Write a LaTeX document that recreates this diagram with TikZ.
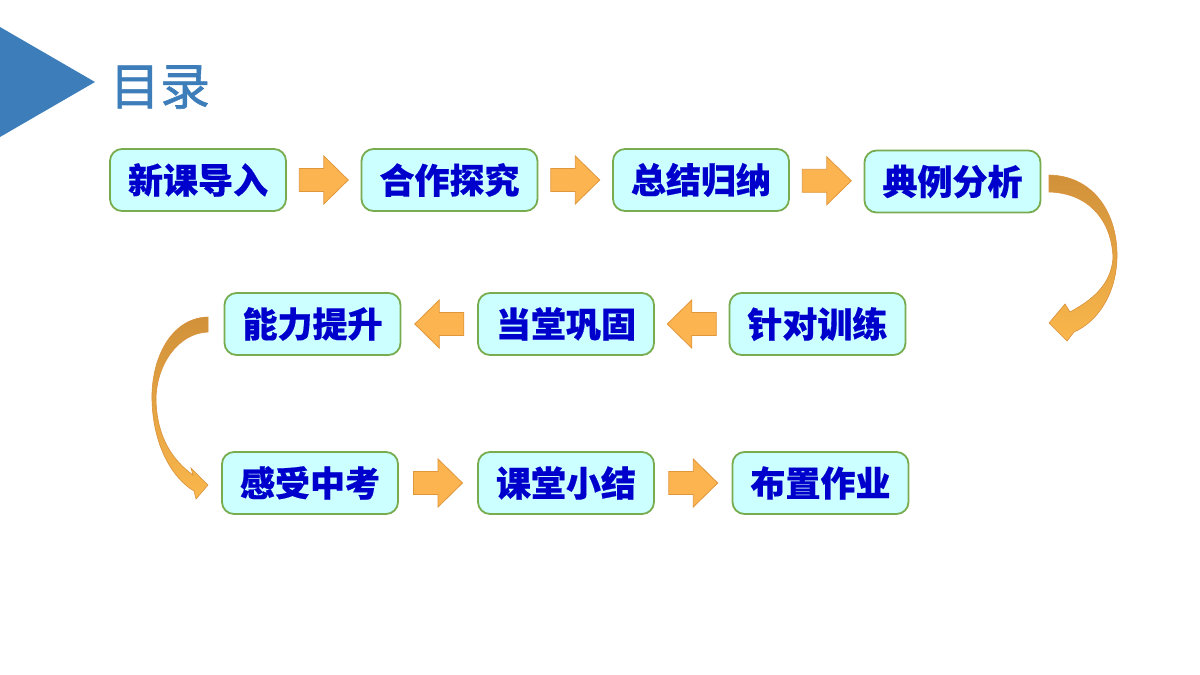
\documentclass[tikz,border=0pt]{standalone}
\usepackage{fontspec}
\newfontfamily\cjk[BoldFeatures={FakeBold=0.5}]{Noto Sans CJK SC}
\newfontfamily\cjktitle[FakeBold=1.2]{Noto Sans CJK SC}
\definecolor{boxfill}{HTML}{CCFFFF}
\definecolor{boxline}{HTML}{77AC4F}
\definecolor{textblue}{HTML}{0000CC}
\definecolor{titleblue}{HTML}{3D7EBA}
\definecolor{arrowfill}{HTML}{FBB450}
\definecolor{arrowline}{HTML}{E0963A}
\definecolor{curvetop}{HTML}{D0913A}
\definecolor{curvebot}{HTML}{FAB74C}
\tikzset{
  stepbox/.style={draw=boxline, line width=1.8pt, fill=boxfill, rounded corners=12pt,
    minimum width=176pt, minimum height=62pt, inner sep=0pt, text=textblue,
    font=\cjk\bfseries\fontsize{35}{35}\selectfont},
  blockarrow/.pic={
    \path[fill=arrowfill, draw=arrowline, line width=0.8pt]
      (-24.5,-11.5) -- (0,-11.5) -- (0,-24) -- (24.5,0) -- (0,24) -- (0,11.5) -- (-24.5,11.5) -- cycle;
  },
  curvearrow/.style={top color=curvetop, bottom color=curvebot, draw=arrowline!80!brown, line width=0.6pt}
}
\usetikzlibrary{calc}
\begin{document}
\begin{tikzpicture}[x=1pt,y=-1pt]
\useasboundingbox (0,0) rectangle (1200,675);
\fill[white] (0,0) rectangle (1200,675);
% title
\fill[titleblue] (0,27) -- (95,82) -- (0,137) -- cycle;
\node[text=titleblue, font=\cjktitle\fontsize{50}{50}\selectfont, inner sep=0pt] (title) at (160,87) {目录};
% boxes
\node[stepbox] (b1) at (198,180) {新课导入};
\node[stepbox] (b2) at (449.5,180) {合作探究};
\node[stepbox] (b3) at (701,180) {总结归纳};
\node[stepbox] (b4) at (952.5,181.5) {典例分析};
\node[stepbox] (b5) at (817.5,324) {针对训练};
\node[stepbox] (b6) at (566,324) {当堂巩固};
\node[stepbox] (b7) at (312.5,324) {能力提升};
\node[stepbox] (b8) at (310,483) {感受中考};
\node[stepbox] (b9) at (566,483) {课堂小结};
\node[stepbox] (b10) at (820.5,483) {布置作业};
% straight arrows
\pic at ($(b1.east)!0.5!(b2.west)$) {blockarrow};
\pic at ($(b2.east)!0.5!(b3.west)$) {blockarrow};
\pic at ($(b3.east)!0.5!(b4.west)$) {blockarrow};
\pic[rotate=180] at ($(b5.west)!0.5!(b6.east)$) {blockarrow};
\pic[rotate=180] at ($(b6.west)!0.5!(b7.east)$) {blockarrow};
\pic at ($(b8.east)!0.5!(b9.west)$) {blockarrow};
\pic at ($(b9.east)!0.5!(b10.west)$) {blockarrow};
% curved arrow right (b4 -> b5)
\path[curvearrow] (1049,175) .. controls (1095,176) and (1118,215) .. (1117,258)
  .. controls (1116,295) and (1097,322) .. (1074,332)
  -- (1067,341) -- (1049,323) -- (1065,304) -- (1070,312)
  .. controls (1092,300) and (1111,285) .. (1113,258)
  .. controls (1112,222) and (1090,193) .. (1049,192) -- cycle;
% curved arrow left (b7 -> b8)
\path[curvearrow] (208,317) .. controls (170,318) and (151,360) .. (152,400)
  .. controls (153,445) and (172,478) .. (194,491)
  -- (196,499) -- (208,485) -- (191,468) -- (193,475)
  .. controls (175,462) and (157,440) .. (156,400)
  .. controls (156,365) and (178,333) .. (208,332) -- cycle;
\end{tikzpicture}
\end{document}
